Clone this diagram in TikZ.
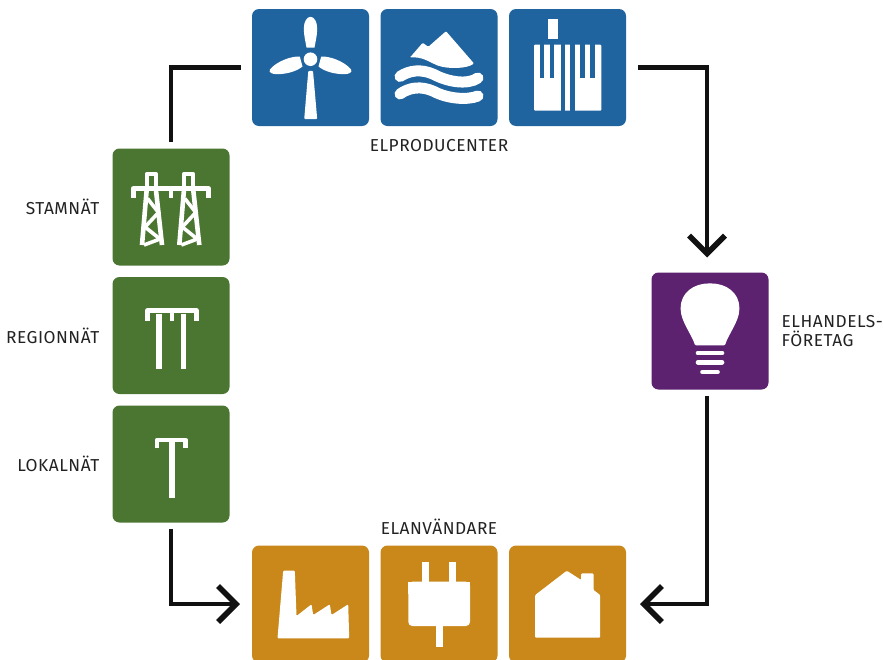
\documentclass[tikz,border=0pt]{standalone}
\usepackage{fontspec}
\setmainfont[LetterSpace=3]{Fira Sans}
\usetikzlibrary{positioning, arrows.meta}
\definecolor{prodblue}{HTML}{1F639F}
\definecolor{gridgreen}{HTML}{4B7632}
\definecolor{tradepurple}{HTML}{5C2270}
\definecolor{useorange}{HTML}{C98819}
\definecolor{flowblack}{HTML}{111111}
\definecolor{captiongray}{HTML}{222222}

\begin{document}
\begin{tikzpicture}[
    x=1pt, y=-1pt,
    iconbox/.style={
        rounded corners=7pt, minimum size=117pt, inner sep=0pt, outer sep=0pt
    },
    caption/.style={font=\fontsize{17.3}{19}\selectfont, text=captiongray, inner sep=0pt, align=left},
    solid shape/.style={fill=white, rounded corners=1pt},
    mast/.style={draw=white, line width=4.6pt, line join=round},
    flow/.style={draw=flowblack, line width=4.2pt},
    flowtip/.style={-{Straight Barb[length=18pt, width=36pt, line width=5.5pt]}},
]

\path[use as bounding box, clip] (0, 0) rectangle (883, 659);

% Producers
\node[iconbox, fill=prodblue] (wind) at (310.5, 67.5) {};
\node[iconbox, fill=prodblue, right=11.5pt of wind] (hydro) {};
\node[iconbox, fill=prodblue, right=11.5pt of hydro] (reactor) {};
\node[caption, below=13pt of hydro] (prodtext) {ELPRODUCENTER};

% Grid levels
\node[iconbox, fill=gridgreen] (stam) at (171, 207) {};
\node[iconbox, fill=gridgreen, below=11.5pt of stam] (region) {};
\node[iconbox, fill=gridgreen, below=11.5pt of region] (lokal) {};
\node[caption, left=13pt of stam] (stamtext) {STAMNÄT};
\node[caption, left=13pt of region] (regiontext) {REGIONNÄT};
\node[caption, left=13pt of lokal] (lokaltext) {LOKALNÄT};

% Electricity trader
\node[iconbox, fill=tradepurple] (bulb) at (710, 331) {};
\node[caption, right=13pt of bulb] (tradetext) {ELHANDELS-\\FÖRETAG};

% Consumers
\node[iconbox, fill=useorange] (factory) at (310.5, 604) {};
\node[iconbox, fill=useorange, right=11.5pt of factory] (plug) {};
\node[iconbox, fill=useorange, right=11.5pt of plug] (house) {};
\node[caption, above=11pt of plug] (usetext) {ELANVÄNDARE};

% Wind turbine
\begin{scope}[shift={(wind)}]
    \fill[white] (0, -8.3) circle (6.8);
    \fill[white] (-4, -20) .. controls (-5, -26) and (-6.7, -32) .. (-6.7, -39)
        .. controls (-6.7, -46) and (-3.5, -50.7) .. (0, -50.7)
        .. controls (3.5, -50.7) and (6.7, -46) .. (6.7, -39)
        .. controls (6.7, -32) and (5, -26) .. (4, -20) -- cycle;
    \fill[white] (-10.7, -11) .. controls (-18, -11.5) and (-33, -7) .. (-40.7, 2)
        .. controls (-42, 5) and (-38, 6.7) .. (-34, 6.7)
        .. controls (-24, 6.7) and (-14, 4) .. (-8, -1) -- cycle;
    \fill[white] (10.7, -11) .. controls (18, -11.5) and (33, -7) .. (40.7, 2)
        .. controls (42, 5) and (38, 6.7) .. (34, 6.7)
        .. controls (24, 6.7) and (14, 4) .. (8, -1) -- cycle;
    \fill[solid shape] (-2.2, 3.3) -- (2.5, 3.3) -- (6.7, 51.7) -- (-6.3, 51.7) -- cycle;
\end{scope}

% Mountain and water
\begin{scope}[shift={(hydro)}]
    \fill[solid shape] (-29, -10) -- (-16.3, -24.7) -- (-10.7, -20.7) -- (7, -36.3) -- (35, -4)
        .. controls (28, 1) and (10, 2) .. (-2.3, -2.3)
        .. controls (-10, -6) and (-18, -11) .. (-29, -10) -- cycle;
    \draw[white, line width=11pt, line cap=round] (-39, 9)
        .. controls (-30, 3) and (-18, 1) .. (-5, 7)
        .. controls (8, 14) and (28, 18) .. (39, 10.5);
    \draw[white, line width=11pt, line cap=round] (-39, 26.5)
        .. controls (-30, 20) and (-18, 18) .. (-5, 24)
        .. controls (8, 31) and (28, 33) .. (39, 28.5);
\end{scope}

% Nuclear reactor
\begin{scope}[shift={(reactor)}]
    \fill[white] (-19.8, -48.5) rectangle (-10, -28.5);
    \fill[solid shape] (-33.5, -22.8) rectangle (33.8, 43.2);
    \foreach \slit/\depth in {-27.8/10, -17.8/10, -6.8/44, 2.6/44, 12.6/10, 22.6/10}
        \fill[prodblue] (\slit, -23.5) rectangle ++(4.6, \depth + 23.5);
\end{scope}

% Two lattice pylons
\begin{scope}[shift={(stam)}]
    \draw[mast] (-37.8, -9.5) -- (-37.8, -18.5) -- (37.5, -18.5) -- (37.5, -9.5);
    \draw[mast] (0, -18.5) -- (0, -9.5);
    \foreach \dx in {0, 37.3} {
        \draw[mast] (-24.2 + \dx, -18.5) -- (-24.2 + \dx, -33) -- (-15.2 + \dx, -33) -- (-15.2 + \dx, -18.5);
        \draw[mast] (-24.2 + \dx, -18.5) -- (-29 + \dx, 38);
        \draw[mast] (-15.2 + \dx, -18.5) -- (-9 + \dx, 38);
        \draw[white, line width=3.6pt] (-23.5 + \dx, -8.5) -- (-12.5 + \dx, 5.5) -- (-26 + \dx, 20) -- (-11 + \dx, 32) -- (-27 + \dx, 38);
    }
\end{scope}

% Double pole
\begin{scope}[shift={(region)}]
    \draw[mast] (-23.3, -14.7) -- (-23.3, -25) -- (25.3, -25) -- (25.3, -14.7);
    \draw[mast] (1, -25) -- (1, -14.7);
    \draw[mast, line width=5.5pt] (-12, -22) -- (-12, 33.7);
    \draw[mast, line width=5.5pt] (12.7, -22) -- (12.7, 33.7);
\end{scope}

% Single pole
\begin{scope}[shift={(lokal)}]
    \draw[mast] (-14, -15.7) -- (-14, -24) -- (14.7, -24) -- (14.7, -15.7);
    \draw[mast, line width=5.5pt] (1, -24) -- (1, 33.7);
\end{scope}

% Light bulb
\begin{scope}[shift={(bulb)}]
    \fill[solid shape] (-15, 14.3) .. controls (-18, 4) and (-29.3, -10) .. (-29.3, -22.3)
        .. controls (-29.3, -38.5) and (-16, -47.6) .. (0, -47.6)
        .. controls (16, -47.6) and (29.3, -38.5) .. (29.3, -22.3)
        .. controls (29.3, -10) and (18, 4) .. (15, 14.3) -- cycle;
    \draw[white, line width=4.7pt, line cap=round] (-12, 22) -- (12, 22);
    \draw[white, line width=4.7pt, line cap=round] (-12, 31.3) -- (12, 31.3);
    \draw[white, line width=4.7pt, line cap=round] (-7.5, 41) -- (7.5, 41);
\end{scope}

% Factory
\begin{scope}[shift={(factory)}]
    \fill[solid shape] (-27.3, -33.3) -- (-15.7, -33.3) -- (-14, 12) -- (1, 0.3) -- (2.7, 11)
        -- (19.3, 0.3) -- (21, 11) -- (37.7, 0.3) -- (38.7, 34.3) -- (-33, 34.3) -- cycle;
\end{scope}

% Plug
\begin{scope}[shift={(plug)}]
    \fill[white] (-16.7, -42.3) rectangle (-9.7, -20);
    \fill[white] (9.7, -42.3) rectangle (16.7, -20);
    \fill[white] (-3.3, 18) rectangle (3.7, 42.7);
    \fill[white, rounded corners=4pt] (-30.7, -22.3) -- (31, -22.3) -- (31, 22) -- (-30.7, 22) -- cycle;
    \fill[white] (-30.7, -22.3) rectangle (31, -10);
\end{scope}

% House
\begin{scope}[shift={(house)}]
    \fill[solid shape] (-32.3, -9) -- (-0.7, -33.3) -- (13.7, -24) -- (13.7, -30.7) -- (26, -30.7)
        -- (26, -14) -- (32.7, -9) -- (32.7, 33.7) -- (-32.3, 33.7) -- cycle;
\end{scope}

% Arrows round the loop
\draw[flow, shorten <=7pt, shorten >=11pt] (stam.north) |- (wind.west);
\draw[flow, flowtip, shorten <=12pt, shorten >=15pt] (reactor.east) -| ([xshift=-3pt]bulb.north);
\draw[flow, flowtip, shorten <=6pt, shorten >=14pt] ([xshift=-3pt]bulb.south) |- (house.east);
\draw[flow, flowtip, shorten <=6pt, shorten >=12pt] (lokal.south) |- (factory.west);

\end{tikzpicture}
\end{document}
